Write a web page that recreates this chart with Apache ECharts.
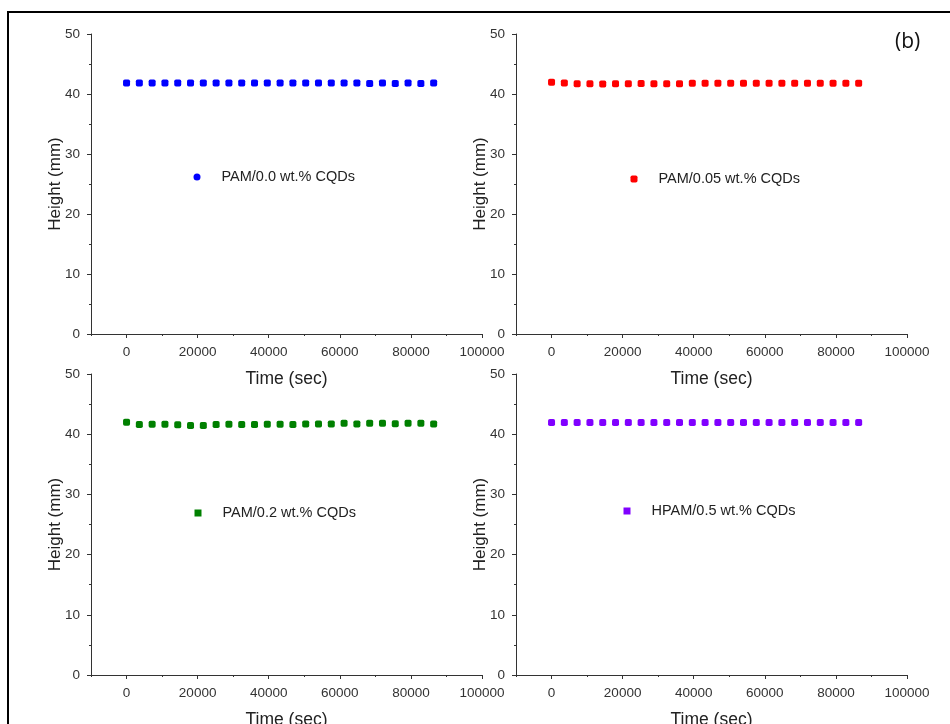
<!DOCTYPE html>
<html>
<head>
<meta charset="utf-8">
<script src="https://cdn.jsdelivr.net/npm/echarts@6/dist/echarts.min.js"></script>
<style>html,body{margin:0;padding:0;background:#fff}#c{width:950px;height:724px}</style>
</head>
<body>
<div id="c"></div>
<script>
// ---- data ----
const timeSec = [0,3600,7200,10800,14400,18000,21600,25200,28800,32400,36000,39600,43200,46800,50400,54000,57600,61200,64800,68400,72000,75600,79200,82800,86400];
const seriesNames = ['PAM/0.0 wt.% CQDs','PAM/0.05 wt.% CQDs','PAM/0.2 wt.% CQDs','HPAM/0.5 wt.% CQDs'];
const heightPAM00 = [41.85,41.85,41.85,41.85,41.85,41.85,41.85,41.85,41.85,41.85,41.85,41.85,41.85,41.85,41.85,41.85,41.85,41.85,41.85,41.75,41.85,41.75,41.85,41.75,41.85];
const heightPAM005 = [41.95,41.85,41.7,41.7,41.65,41.7,41.7,41.75,41.7,41.7,41.7,41.8,41.8,41.8,41.8,41.8,41.8,41.8,41.8,41.8,41.8,41.8,41.8,41.8,41.8];
const heightPAM02 = [42.0,41.6,41.65,41.65,41.55,41.45,41.45,41.6,41.65,41.6,41.6,41.65,41.65,41.6,41.7,41.7,41.7,41.8,41.7,41.8,41.8,41.75,41.8,41.8,41.7];
const heightHPAM05 = [41.95,41.95,41.95,41.95,41.95,41.95,41.95,41.95,41.95,41.95,41.95,41.95,41.95,41.95,41.95,41.95,41.95,41.95,41.95,41.95,41.95,41.95,41.95,41.95,41.95];
const xTickLabels = [0,20000,40000,60000,80000,100000];
const yTickLabels = [0,10,20,30,40,50];
const panelLabel = '(b)';
const xAxisTitle = 'Time (sec)';
const yAxisTitle = 'Height (mm)';

// ---- layout / style ----
const allHeights = [heightPAM00, heightPAM005, heightPAM02, heightHPAM05];
const colors = ['#0000ff','#ff0000','#008000','#8000ff'];
const legendIcons = ['circle','roundRect','rect','rect'];
const grids = [
  {left:91, top:34, width:391, height:300},
  {left:516, top:34, width:391, height:300},
  {left:91, top:374, width:391, height:301},
  {left:516, top:374, width:391, height:301}
];
const legendPos = [
  {left:193.5, top:169.5},
  {left:630.5, top:171.5},
  {left:194.5, top:505.5},
  {left:623.5, top:503.5}
];
const FONT = '"Liberation Sans", Arial, sans-serif';
const axisColor = '#333';

const xAxes = [], yAxes = [], series = [], legends = [];
grids.forEach((g, i) => {
  // minor ticks axis (every 10000)
  xAxes.push({
    gridIndex:i, type:'value', min:-10000, max:100000, interval:10000,
    axisLine:{show:true, onZero:false, lineStyle:{color:axisColor, width:1}},
    axisTick:{show:true, length:2, lineStyle:{color:axisColor}},
    axisLabel:{show:false},
    splitLine:{show:false},
    name: xAxisTitle, nameLocation:'middle', nameGap:36, nameMoveOverlap:false,
    nameTextStyle:{fontFamily:FONT, fontSize:17.5, color:'#222'}
  });
  // major ticks + labels
  xAxes.push({
    gridIndex:i, type:'value', min:-10000, max:100000, position:'bottom', offset:0,
    axisLine:{show:false},
    axisTick:{show:true, length:4, customValues:xTickLabels, lineStyle:{color:axisColor}},
    axisLabel:{show:true, customValues:xTickLabels, margin:11, fontFamily:FONT, fontSize:13.5, color:'#333',
      formatter: v => String(v)},
    splitLine:{show:false}
  });
  yAxes.push({
    gridIndex:i, type:'value', min:0, max:50, interval:10,
    axisLine:{show:true, onZero:false, lineStyle:{color:axisColor, width:1}},
    axisTick:{show:true, length:4, lineStyle:{color:axisColor}},
    minorTick:{show:true, splitNumber:2, length:2, lineStyle:{color:axisColor}},
    axisLabel:{show:true, margin:11, fontFamily:FONT, fontSize:13.5, color:'#333',
      formatter: v => String(v)},
    splitLine:{show:false},
    name: yAxisTitle, nameLocation:'middle', nameGap:27, nameMoveOverlap:false,
    nameTextStyle:{fontFamily:FONT, fontSize:17, color:'#222'}
  });
  series.push({
    name: seriesNames[i], type:'scatter', xAxisIndex: i*2, yAxisIndex: i,
    data: timeSec.map((t, k) => [t, allHeights[i][k]]),
    symbol:'roundRect', symbolSize:7,
    itemStyle:{color:colors[i], opacity:1},
    emphasis:{disabled:true}, animation:false
  });
  legends.push({
    left: legendPos[i].left, top: legendPos[i].top, padding:0, orient:'horizontal',
    itemWidth:7, itemHeight:7, selectedMode:false,
    data:[{name: seriesNames[i], icon: legendIcons[i]}],
    itemStyle:{opacity:1},
    textStyle:{fontFamily:FONT, fontSize:14.5, color:'#222', padding:[0,0,0,16]}
  });
});

const chart = echarts.init(document.getElementById('c'), null, {renderer:'canvas'});
chart.setOption({
  backgroundColor:'#fff',
  animation:false,
  grid: grids.map(g => Object.assign({containLabel:false, outerBoundsMode:'none'}, g)),
  xAxis: xAxes,
  yAxis: yAxes,
  series: series,
  legend: legends,
  graphic: [
    {type:'rect', silent:true, z:100,
     shape:{x:8, y:12, width:1000, height:800},
     style:{fill:null, stroke:'#000', lineWidth:2}},
    {type:'text', left:895, top:32, silent:true,
     style:{text: panelLabel, fontFamily:'"Open Sans", "DejaVu Sans", sans-serif', fontSize:21, fill:'#111'}}
  ]
});
</script>
</body>
</html>
